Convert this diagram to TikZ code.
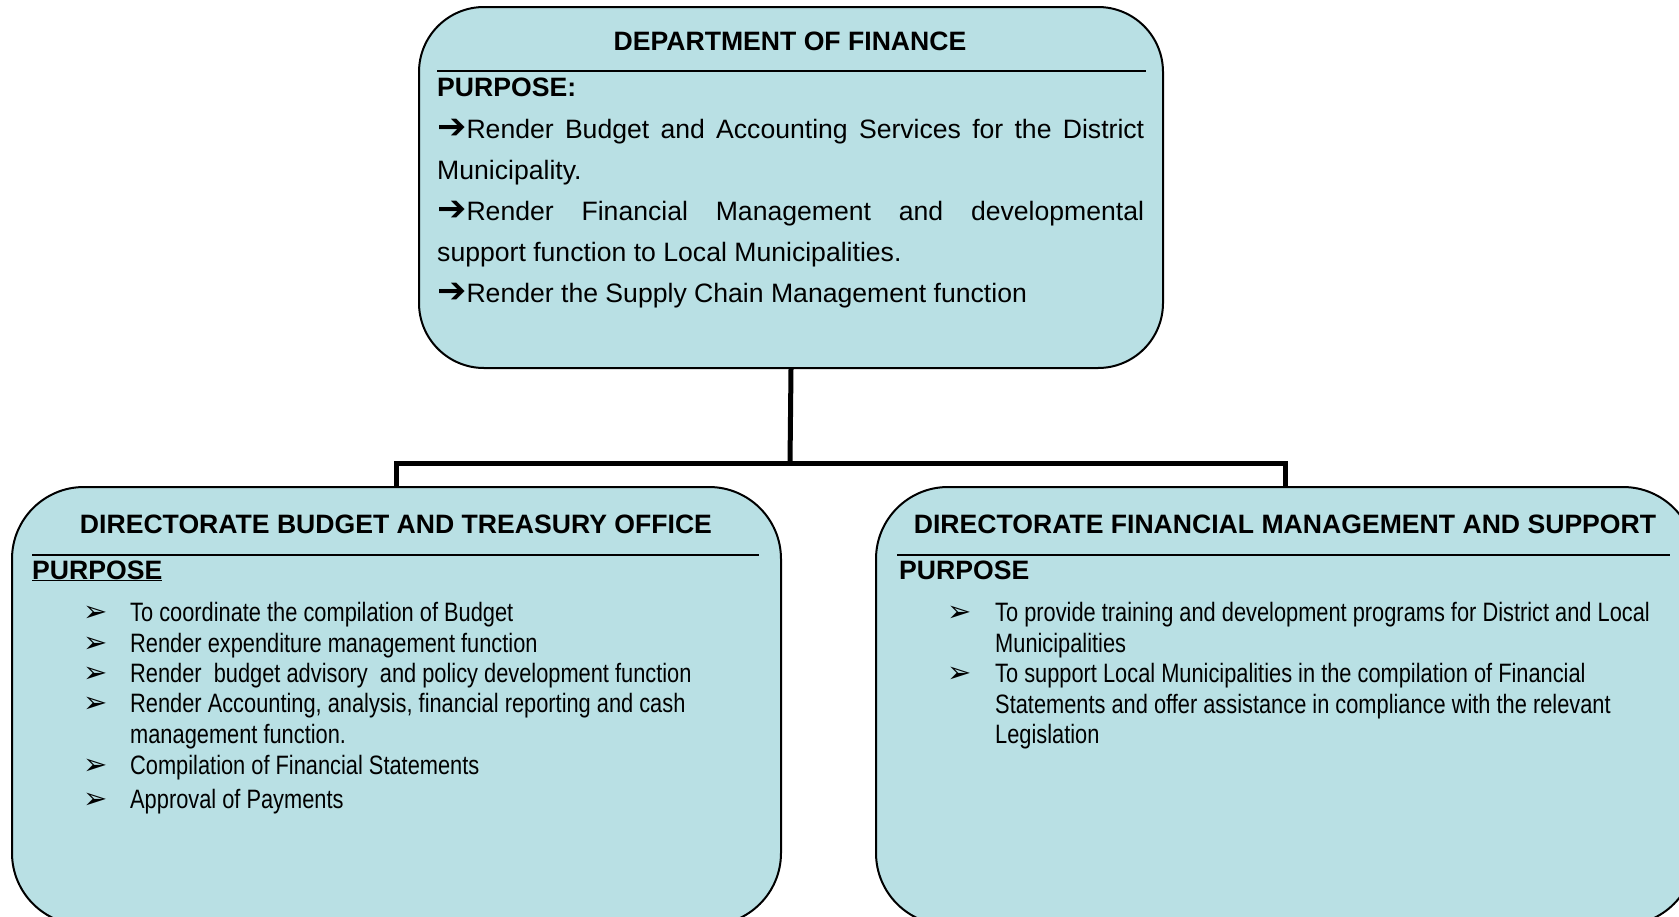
\documentclass[tikz,border=0pt]{standalone}
\usepackage{fontspec}
\setmainfont{Liberation Sans}
\newfontfamily\narrowfont[FakeStretch=0.82]{Liberation Sans}
\newfontfamily\dingfont{DejaVu Sans}
\usetikzlibrary{calc}
\usetikzlibrary{positioning}
\definecolor{boxfill}{RGB}{185,224,228}
\newcommand{\purparrow}{{\dingfont\fontsize{35}{35}\selectfont\symbol{"2794}}}
\newcommand{\listtip}{{\dingfont\symbol{"27A2}}}
\tikzset{
  orgbox/.style={draw,line width=2pt,fill=boxfill,rounded corners=#1,inner sep=0pt},
  headtext/.style={font=\bfseries\fontsize{26.6}{32}\selectfont,inner sep=0pt},
  itemtext/.style={font=\narrowfont\fontsize{26.6}{30.5}\selectfont,anchor=base west,
    inner sep=0pt,text width=700pt,align=flush left},
  tiptext/.style={font=\fontsize{29}{29}\selectfont,anchor=base west,inner sep=0pt},
}

\begin{document}
\begin{tikzpicture}[x=1pt,y=-1pt,line cap=butt,line join=miter]
\clip (0,0) rectangle (1679,916);
\def\fs{26.6}
\def\lh{41}

\node[orgbox=65pt,minimum width=744pt,minimum height=361pt] (dept) at (791,187.5) {};
\node[orgbox=72pt,minimum width=769pt,minimum height=438pt] (bto) at (396.5,706) {};
\node[orgbox=72pt,minimum width=819pt,minimum height=438pt] (fms) at (1285.5,706) {};

\coordinate (bar) at (790,463);
\draw[line width=5pt] (dept.south) -- (bar);
\draw[line width=5pt] (bto.north) -- (bto.north |- bar) -- (fms.north |- bar) -- (fms.north);

% top box
\node[headtext,anchor=base] (depttitle) at (790,50) {DEPARTMENT OF FINANCE};
\draw[line width=1.5pt] (437,71) -- (1146,71);
\node[headtext,anchor=base west] (deptpurp) at (437,96) {PURPOSE:};
\node[anchor=base west,inner sep=0pt,text width=707pt,align=justify,
  font=\fontsize{\fs}{\lh}\selectfont] (deptaims) at (437,138)
  {\purparrow Render Budget and Accounting Services for the District\linebreak
   Municipality.\par
   \purparrow Render Financial Management and developmental\linebreak
   support function to Local Municipalities.\par
   \purparrow Render the Supply Chain Management function};

% left box
\node[headtext,anchor=base] (btotitle) at (396,533) {DIRECTORATE BUDGET AND TREASURY OFFICE};
\draw[line width=1.5pt] (32,555) -- (759,555);
\node[headtext,anchor=base west] (btopurp) at (32,579) {\underline{PURPOSE}};
\foreach \i/\yy/\txt in {1/621.5/{To coordinate the compilation of Budget},
  2/652.5/{Render expenditure management function},
  3/682.5/{Render~ budget advisory~ and policy development function},
  4/712.5/{Render Accounting, analysis, financial reporting and cash\\management function.},
  5/774.5/{Compilation of Financial Statements},
  6/808/{Approval of Payments}}{
  \node[tiptext] (btotip\i) at (83,\yy) {\listtip};
  \node[itemtext] (btoitem\i) at (130,\yy) {\txt};
}

% right box
\node[headtext,anchor=base] (fmstitle) at (1285,533) {DIRECTORATE FINANCIAL MANAGEMENT AND SUPPORT};
\draw[line width=1.5pt] (897,555) -- (1670,555);
\node[headtext,anchor=base west] (fmspurp) at (899,579) {PURPOSE};
\foreach \i/\yy/\txt in {1/621.5/{To provide training and development programs for District and Local\\Municipalities},
  2/682.5/{To support Local Municipalities in the compilation of Financial\\Statements and offer assistance in compliance with the relevant\\Legislation}}{
  \node[tiptext] (fmstip\i) at (947,\yy) {\listtip};
  \node[itemtext] (fmsitem\i) at (995,\yy) {\txt};
}
\end{tikzpicture}
\end{document}
